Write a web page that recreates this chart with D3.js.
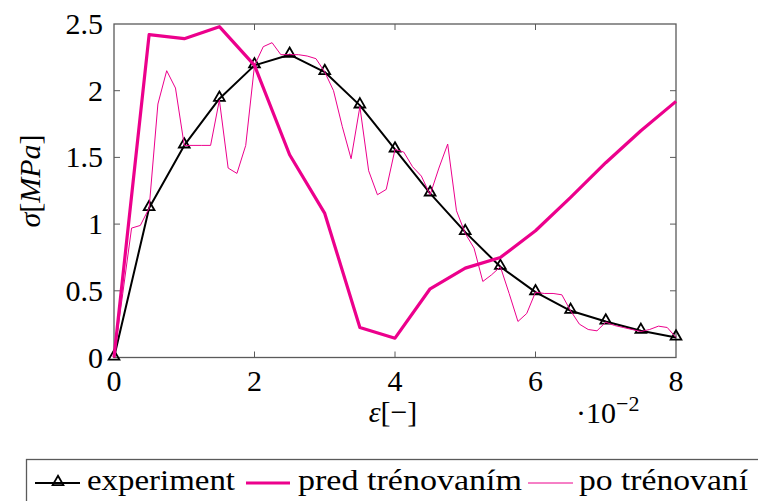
<!DOCTYPE html>
<html>
<head>
<meta charset="utf-8">
<script src="https://cdn.jsdelivr.net/npm/d3@7/dist/d3.min.js"></script>
<style>
  html, body { margin: 0; padding: 0; background: #fff; }
  svg { display: block; }
</style>
</head>
<body>
<svg id="chart" width="758" height="501"></svg>
<script>
// ---- data (strain in units of 1e-2, stress in MPa) ----
const expStrain = [0, 0.5, 1, 1.5, 2, 2.5, 3, 3.5, 4, 4.5, 5, 5.5, 6, 6.5, 7, 7.5, 8];
const expStress = [0, 1.12, 1.59, 1.94, 2.19, 2.27, 2.14, 1.89, 1.56, 1.23, 0.94, 0.68, 0.49, 0.35, 0.27, 0.20, 0.15];

const predStrain = [0, 0.5, 1, 1.5, 2, 2.5, 3, 3.5, 4, 4.5, 5, 5.5, 6, 6.5, 7, 7.5, 8];
const predStress = [0, 2.42, 2.39, 2.48, 2.19, 1.52, 1.08, 0.225, 0.145, 0.515, 0.67, 0.75, 0.95, 1.20, 1.46, 1.70, 1.92];

const poStrain = [0, 0.125, 0.25, 0.375, 0.5, 0.625, 0.75, 0.875, 1, 1.125, 1.25, 1.375, 1.5, 1.625, 1.75, 1.875,
  2, 2.125, 2.25, 2.375, 2.5, 2.625, 2.75, 2.875, 3, 3.125, 3.25, 3.375, 3.5, 3.625, 3.75, 3.875,
  4, 4.125, 4.25, 4.375, 4.5, 4.625, 4.75, 4.875, 5, 5.125, 5.25, 5.375, 5.5, 5.625, 5.75, 5.875,
  6, 6.125, 6.25, 6.375, 6.5, 6.625, 6.75, 6.875, 7, 7.125, 7.25, 7.375, 7.5, 7.625, 7.75, 7.875, 8];
const poStress = [0, 0.48, 0.97, 0.99, 1.12, 1.90, 2.15, 2.02, 1.59, 1.59, 1.59, 1.59, 1.93, 1.42, 1.38, 1.59,
  2.19, 2.33, 2.36, 2.27, 2.27, 2.27, 2.26, 2.24, 2.14, 2.00, 1.73, 1.49, 1.88, 1.40, 1.22, 1.26,
  1.56, 1.54, 1.43, 1.36, 1.22, 1.42, 1.60, 1.10, 0.93, 0.82, 0.57, 0.62, 0.68, 0.48, 0.27, 0.33,
  0.49, 0.48, 0.48, 0.47, 0.35, 0.25, 0.21, 0.20, 0.265, 0.24, 0.225, 0.21, 0.195, 0.21, 0.235, 0.225, 0.15];

const xTicks = [0, 2, 4, 6, 8];
const yTicks = [0, 0.5, 1, 1.5, 2, 2.5];
const yTickLabels = ["0", "0.5", "1", "1.5", "2", "2.5"];
const legendLabels = ["experiment", "pred trénovaním", "po trénovaní"];

// ---- layout ----
const FONT = "Liberation Serif";
const svg = d3.select("#chart").attr("font-family", FONT);
const X0 = 114, X1 = 676, Y0 = 357.5, Y1 = 24;
const x = d3.scaleLinear().domain([0, 8]).range([X0, X1]);
const y = d3.scaleLinear().domain([0, 2.5]).range([Y0, Y1]);
const PINK = "#EC008C";
const AXC = "#5a5a5a";

function txt(sel) {
  return sel.append("text").attr("font-family", FONT).style("font-family", FONT).attr("font-size", 30);
}

// ticks (inward on all sides)
const tl = 6;
const tg = svg.append("g").attr("stroke", AXC).attr("stroke-width", 1);
xTicks.slice(1, -1).forEach(t => {
  tg.append("line").attr("x1", x(t)).attr("x2", x(t)).attr("y1", Y0).attr("y2", Y0 - tl);
  tg.append("line").attr("x1", x(t)).attr("x2", x(t)).attr("y1", Y1).attr("y2", Y1 + tl);
});
yTicks.slice(1, -1).forEach(t => {
  tg.append("line").attr("y1", y(t)).attr("y2", y(t)).attr("x1", X0).attr("x2", X0 + tl);
  tg.append("line").attr("y1", y(t)).attr("y2", y(t)).attr("x1", X1).attr("x2", X1 - tl);
});

// frame
svg.append("rect").attr("x", X0).attr("y", Y1).attr("width", X1 - X0).attr("height", Y0 - Y1)
  .attr("fill", "none").attr("stroke", AXC).attr("stroke-width", 1.3);

// tick labels
const xtg = svg.append("g");
xTicks.forEach(d => {
  txt(xtg).attr("x", x(d)).attr("y", 391).attr("text-anchor", "middle").text(d);
});
const ytg = svg.append("g");
yTicks.forEach((d, i) => {
  txt(ytg).attr("x", 103).attr("y", y(d) + 10).attr("text-anchor", "end").text(yTickLabels[i]);
});

// axis labels
const xl = txt(svg).attr("x", 393).attr("y", 422).attr("text-anchor", "middle");
xl.append("tspan").attr("font-style", "italic").text("ε");
xl.append("tspan").text("[−]");

const sc = txt(svg).attr("x", 576).attr("y", 423);
sc.append("tspan").text("·10");
sc.append("tspan").attr("font-size", 22).attr("dy", -12).text("−2");

const yl = txt(svg).attr("transform", "translate(40,181) rotate(-90)").attr("text-anchor", "middle");
yl.append("tspan").attr("font-style", "italic").text("σ");
yl.append("tspan").text("[");
yl.append("tspan").attr("font-style", "italic").text("MPa");
yl.append("tspan").text("]");

// series
const line = d3.line().x(d => x(d[0])).y(d => y(d[1]));
const expData = expStrain.map((s, i) => [s, expStress[i]]);
const predData = predStrain.map((s, i) => [s, predStress[i]]);
const poData = poStrain.map((s, i) => [s, poStress[i]]);

const plot = svg.append("g");
plot.append("path").datum(expData).attr("d", line).attr("fill", "none")
  .attr("stroke", "#000").attr("stroke-width", 2).attr("stroke-linejoin", "round");
const tri = d3.symbol().type(d3.symbolTriangle).size(50);
plot.append("g").selectAll("path").data(expData).join("path")
  .attr("transform", d => `translate(${x(d[0])},${y(d[1]) - 1})`)
  .attr("d", tri).attr("fill", "none").attr("stroke", "#000").attr("stroke-width", 1.8);
plot.append("path").datum(predData).attr("d", line).attr("fill", "none")
  .attr("stroke", PINK).attr("stroke-width", 3.2).attr("stroke-linejoin", "round");
plot.append("path").datum(poData).attr("d", line).attr("fill", "none")
  .attr("stroke", PINK).attr("stroke-width", 1).attr("stroke-linejoin", "round");

// legend
const lg = svg.append("g");
lg.append("rect").attr("x", 26.5).attr("y", 459.5).attr("width", 800).attr("height", 100)
  .attr("fill", "#fff").attr("stroke", AXC).attr("stroke-width", 1.3);
const ly = 483;
lg.append("line").attr("x1", 35).attr("x2", 80).attr("y1", ly).attr("y2", ly).attr("stroke", "#000").attr("stroke-width", 2);
lg.append("path").attr("transform", `translate(58,${ly - 1})`).attr("d", tri)
  .attr("fill", "none").attr("stroke", "#000").attr("stroke-width", 1.8);
lg.append("line").attr("x1", 246).attr("x2", 290).attr("y1", ly).attr("y2", ly).attr("stroke", PINK).attr("stroke-width", 3.2);
lg.append("line").attr("x1", 528).attr("x2", 573).attr("y1", ly).attr("y2", ly).attr("stroke", PINK).attr("stroke-width", 1);
const lx = [87, 298, 579], lw = [148, 224, 169];
legendLabels.forEach((t, i) => {
  txt(lg).attr("x", lx[i]).attr("y", 490)
    .attr("textLength", lw[i]).attr("lengthAdjust", "spacingAndGlyphs").text(t);
});
</script>
</body>
</html>
